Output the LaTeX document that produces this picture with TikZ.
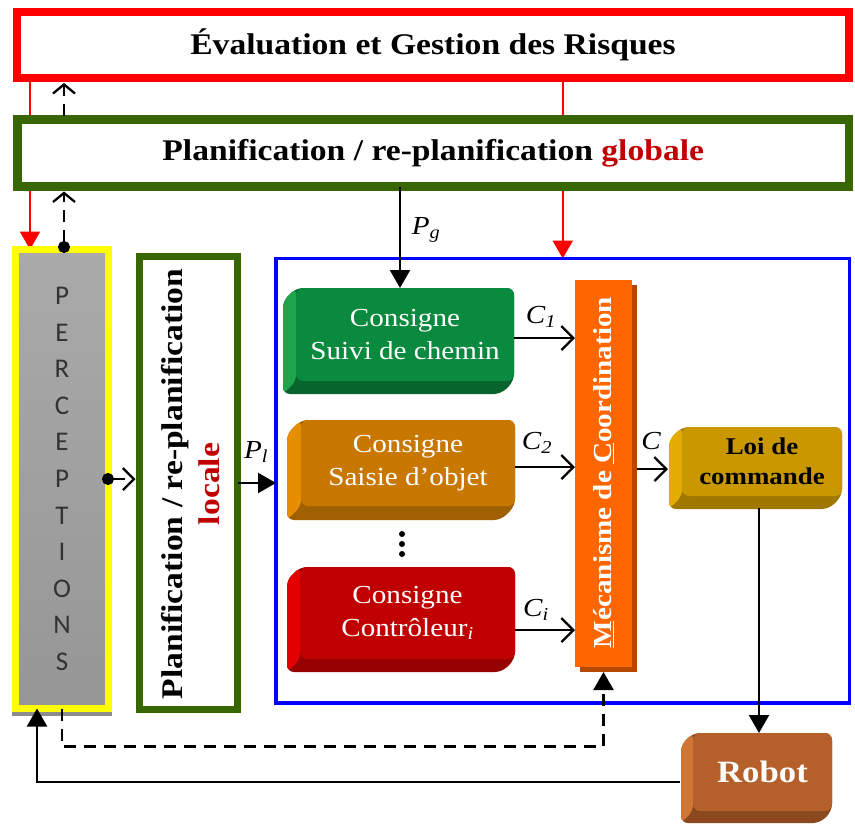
\documentclass[tikz,border=0pt]{standalone}
\usepackage{fontspec}
\setmainfont{Liberation Serif}[FakeStretch=1.12]
\newfontfamily\percfont{Carlito}
\usetikzlibrary{arrows.meta,backgrounds,calc}
\definecolor{riskred}{RGB}{255,0,0}
\definecolor{dkgreen}{RGB}{56,102,0}
\definecolor{txtred}{RGB}{192,0,0}
\definecolor{bluebox}{RGB}{0,0,255}
\definecolor{yel}{RGB}{255,255,0}
\definecolor{percA}{RGB}{170,170,170}
\definecolor{percB}{RGB}{150,150,150}
\definecolor{gface}{RGB}{10,138,62}
\definecolor{glight}{RGB}{30,165,75}
\definecolor{gdark}{RGB}{8,100,45}
\definecolor{oface}{RGB}{200,120,0}
\definecolor{olight}{RGB}{228,142,0}
\definecolor{odark}{RGB}{160,95,0}
\definecolor{rface}{RGB}{192,0,0}
\definecolor{rlight}{RGB}{228,0,0}
\definecolor{rdark}{RGB}{150,0,0}
\definecolor{lface}{RGB}{201,151,0}
\definecolor{llight}{RGB}{228,172,0}
\definecolor{ldark}{RGB}{160,120,0}
\definecolor{bface}{RGB}{181,96,42}
\definecolor{blight}{RGB}{208,118,52}
\definecolor{bdark}{RGB}{140,72,30}
\definecolor{mface}{RGB}{255,102,0}
\definecolor{mdark}{RGB}{180,72,0}
\newcommand\bevelize[4]{%
  \begin{scope}[on background layer]
  \fill[#2, rounded corners=7pt] (#1.north west) -- (#1.north east) -- (#1.south east)
     -- ([shift={(-#4pt,-#4pt)}]#1.south east) -- ([shift={(-#4pt,-#4pt)}]#1.south west)
     -- ([shift={(-#4pt,-#4pt)}]#1.north west) -- cycle;
  \fill[#3, rounded corners=6pt] ([shift={(-#4pt,-#4pt)}]#1.north west) -- (#1.north west) -- (#1.south west)
     -- ([shift={(-#4pt,-#4pt)}]#1.south west) -- cycle;
  \end{scope}}
\begin{document}
\begin{tikzpicture}[x=1pt,y=-1pt,
  every node/.style={outer sep=0pt},
  conn/.style={line width=2.3pt},
  tri/.style={-{Triangle[length=18pt,width=20pt]}},
  barb/.style={-{Straight Barb[length=12pt,width=24pt]}},
  dbarb/.style={-{Straight Barb[length=9pt,width=22pt]}},
  dsh/.style={dash pattern=on 12pt off 8pt},
  lbl/.style={font=\fontsize{26}{26}\selectfont\itshape, inner sep=0pt},
  bev/.style={rounded corners=7pt, align=center, inner sep=0pt},
  cons/.style={bev, text=white, font=\fontsize{26}{33}\selectfont},
  head/.style={font=\fontsize{30}{36}\selectfont\bfseries, fill=white},
]
\useasboundingbox (0,0) rectangle (855,825);
\begin{scope}[on background layer]
\fill[white] (0,0) rectangle (855,825);
\end{scope}

% top boxes
\node[head, draw=riskred, line width=8pt, minimum width=832pt, minimum height=66pt] (risk) at (433,45)
  {Évaluation et Gestion des Risques};
\node[head, draw=dkgreen, line width=8.5pt, minimum width=831.5pt, minimum height=67pt] (glob) at (433.25,153)
  {Planification / re-planification \textcolor{txtred}{globale}};

% perceptions
\node[draw=yel, line width=7pt, top color=percA, bottom color=percB, minimum width=93pt, minimum height=459pt,
  align=center, text=black!80, font=\percfont\fontsize{27}{36.6}\selectfont] (perc) at (62,479)
  {P\\E\\R\\C\\E\\P\\T\\I\\O\\N\\S};
\begin{scope}[on background layer]
\fill[black!45] ([xshift=-3.5pt]perc.south west) rectangle ([shift={(3.5pt,-7pt)}]perc.south east);
\end{scope}

% local planning
\node[draw=dkgreen, line width=7pt, fill=white, minimum width=98pt, minimum height=453pt] (loc) at (188.5,483) {};
\node[rotate=90, align=center, font=\fontsize{30}{37}\selectfont\bfseries] (loctext) at (191,484)
  {Planification / re-planification\\\textcolor{txtred}{locale}};

% blue frame
\node[draw=bluebox, line width=3.5pt, minimum width=573.5pt, minimum height=444.5pt] (blue) at (562.75,480.75) {};

% consigne boxes
\node[cons, fill=gface, minimum width=218pt, minimum height=93pt] (g1) at (405,334.5) {Consigne\\Suivi de chemin};
\bevelize{g1}{gdark}{glight}{13}
\node[cons, fill=oface, minimum width=214pt, minimum height=86pt] (o1) at (408,463) {Consigne\\Saisie d’objet};
\bevelize{o1}{odark}{olight}{14}
\node[cons, fill=rface, minimum width=215pt, minimum height=92pt] (r1) at (407.5,613) {Consigne\\Contrôleur\textsubscript{\textit{i}}};
\bevelize{r1}{rdark}{rlight}{13}

% vertical dots
\node[circle, fill=black, inner sep=0pt, minimum size=6pt] (v1) at (402,534) {};
\node[circle, fill=black, inner sep=0pt, minimum size=6pt] (v2) at (402,544) {};
\node[circle, fill=black, inner sep=0pt, minimum size=6pt] (v3) at (402,554) {};

% coordination mechanism
\node[fill=mface, minimum width=57pt, minimum height=387pt] (mec) at (603.5,473.5) {};
\begin{scope}[on background layer]
\fill[mdark] ([shift={(5pt,-5pt)}]mec.south west) rectangle ([shift={(5pt,-5pt)}]mec.north east);
\end{scope}
\node[rotate=90, text=white, font=\fontsize{26}{30}\selectfont\bfseries] (mectext) at (604,472.5)
  {\underline{M}écanisme de \underline{C}oordination};

% loi de commande and robot
\node[bev, fill=lface, minimum width=160pt, minimum height=69pt, font=\fontsize{24}{30}\selectfont\bfseries] (loi) at (762,461.5)
  {Loi de\\commande};
\bevelize{loi}{ldark}{llight}{13}
\node[bev, fill=bface, minimum width=139pt, minimum height=78pt, text=white, font=\fontsize{31}{36}\selectfont\bfseries] (robot) at (762.5,772)
  {Robot};
\bevelize{robot}{bdark}{blight}{12}

% red arrows (behind)
\coordinate (redL) at ([xshift=-32pt]perc.north);
\begin{scope}[on background layer]
\draw[conn, riskred, tri] (redL |- risk.south) -- (redL);
\draw[conn, riskred, tri] (blue.north |- risk.south) -- (blue.north);
\end{scope}

% dashed perception feedback upward
\coordinate (dashx) at ([shift={(2pt,-3.5pt)}]perc.north);
\draw[conn, dsh, {Circle[length=12pt]}-{Straight Barb[length=9pt,width=22pt]}, shorten >=5pt] (dashx) -- (dashx |- glob.south);
\draw[conn, dsh, dbarb, shorten <=4pt, shorten >=5pt] (dashx |- glob.north) -- (dashx |- risk.south);

% perceptions -> local
\coordinate (pe) at ([xshift=-6.5pt]perc.east);
\draw[conn, dsh, {Circle[length=12pt]}-{Straight Barb[length=11pt,width=22pt]}, shorten >=4pt] (pe) -- (pe -| loc.west);

% P_l
\draw[conn, tri] (loc.east) -- (loc.east -| blue.west);
\node[lbl] (lPl) at (256,452) {P\textsubscript{\textit{l}}};

% P_g
\coordinate (pgx) at ([xshift=-5pt]g1.north);
\draw[conn, tri] (pgx |- glob.south) -- (pgx);
\node[lbl] (lPg) at (426,230) {P\textsubscript{\textit{g}}};

% C arrows
\coordinate (c1s) at ([yshift=-3.5pt]g1.east);
\draw[conn, barb] (c1s) -- (c1s -| mec.west);
\node[lbl] (lC1) at (541,317) {C\textsubscript{\textit{1}}};
\coordinate (c2s) at ([yshift=-4pt]o1.east);
\draw[conn, barb] (c2s) -- (c2s -| mec.west);
\node[lbl] (lC2) at (537,443) {C\textsubscript{2}};
\coordinate (cis) at ([yshift=-17pt]r1.east);
\draw[conn, barb] (cis) -- (cis -| mec.west);
\node[lbl] (lCi) at (536,610) {C\textsubscript{\textit{i}}};
\coordinate (cs) at ([shift={(5pt,4.5pt)}]mec.east);
\coordinate (loiL) at ([xshift=-14pt]loi.west);
\draw[conn, barb] (cs) -- (cs -| loiL);
\node[lbl] (lC) at (651,441) {C};

% loi -> robot
\coordinate (lb) at ([shift={(-3pt,-12pt)}]loi.south);
\draw[conn, tri] (lb) -- (lb |- robot.north);

% robot -> perceptions
\coordinate (rl) at ([shift={(-13pt,-10pt)}]robot.west);
\coordinate (pb) at ([xshift=-25pt]perc.south);
\draw[conn, tri] (rl) -| (pb);

% dashed perceptions -> mechanism
\coordinate (ms) at ([yshift=-5pt]mec.south);
\draw[conn, dsh, tri] (perc.south) -- ++(0,38) -| (ms);
\end{tikzpicture}
\end{document}
